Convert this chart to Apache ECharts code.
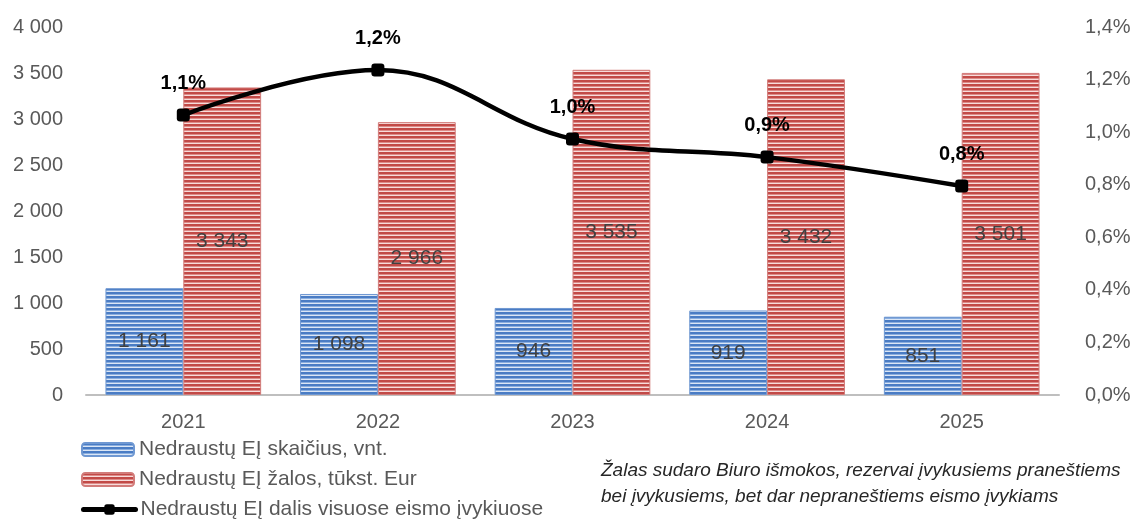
<!DOCTYPE html>
<html>
<head>
<meta charset="utf-8">
<script src="https://cdn.jsdelivr.net/npm/echarts@6/dist/echarts.min.js"></script>
<style>
  html, body { margin: 0; padding: 0; background: #fff; }
  #main { width: 1130px; height: 519px; }
</style>
</head>
<body>
<div id="main"></div>
<script>
var years = ['2021', '2022', '2023', '2024', '2025']
var countValues = [1161, 1098, 946, 919, 851]
var lossValues = [3343, 2966, 3535, 3432, 3501]
var shareValues = [1.065, 1.236, 0.974, 0.905, 0.795]

var seriesNames = [
  'Nedraustų EĮ skaičius, vnt.',
  'Nedraustų EĮ žalos, tūkst. Eur',
  'Nedraustų EĮ dalis visuose eismo įvykiuose'
]
var noteLines = [
  'Žalas sudaro Biuro išmokos, rezervai įvykusiems praneštiems',
  'bei įvykusiems, bet dar nepraneštiems eismo įvykiams'
]

// horizontal stripe fill, like the excel texture
function stripes (dark, mid, light) {
  var c = document.createElement('canvas')
  c.width = 4
  c.height = 4
  var ctx = c.getContext('2d')
  ctx.fillStyle = dark
  ctx.fillRect(0, 0, 4, 2)
  ctx.fillStyle = mid
  ctx.fillRect(0, 2, 4, 1)
  ctx.fillStyle = light
  ctx.fillRect(0, 3, 4, 1)
  return { image: c, repeat: 'repeat' }
}

function thousands (v) {
  return String(v).replace(/\B(?=(\d{3})+(?!\d))/g, ' ')
}

var font = 'Liberation Sans'
var textGray = '#595959'

// one legend per row so they stack like the excel legend
var legendTops = [434, 464, 494]
var legends = seriesNames.map(function (name, i) {
  return {
    left: 76,
    top: legendTops[i],
    itemWidth: 52,
    itemHeight: 13,
    itemGap: 8,
    lineStyle: { width: 5 },
    textStyle: { color: textGray, fontSize: 21, fontFamily: font },
    data: [name]
  }
})

var chart = echarts.init(document.getElementById('main'))
chart.setOption({
  backgroundColor: '#fff',
  animation: false,
  textStyle: { fontFamily: font },
  grid: { left: 86, right: 71, top: 27, bottom: 124, outerBoundsMode: 'none', containLabel: false },
  legend: legends,
  xAxis: {
    type: 'category',
    data: years,
    axisLine: { lineStyle: { color: '#bfbfbf', width: 2 } },
    axisTick: { show: false },
    axisLabel: { color: textGray, fontSize: 20, margin: 17 }
  },
  yAxis: [
    {
      type: 'value',
      min: 0,
      max: 4000,
      interval: 500,
      splitLine: { show: false },
      axisLine: { show: false },
      axisLabel: { color: textGray, fontSize: 20, margin: 23, formatter: thousands }
    },
    {
      type: 'value',
      min: 0,
      max: 1.4,
      interval: 0.2,
      splitLine: { show: false },
      axisLine: { show: false },
      axisLabel: {
        color: textGray,
        fontSize: 20,
        margin: 26,
        formatter: function (v) { return v.toFixed(1).replace('.', ',') + '%' }
      }
    }
  ],
  series: [
    {
      name: seriesNames[0],
      type: 'bar',
      data: countValues,
      barGap: '0%',
      barCategoryGap: '20%',
      itemStyle: {
        color: stripes('#4a7cc4', '#8aaedf', '#dbe6f5'),
        borderColor: '#6f98d2',
        borderWidth: 1
      },
      label: {
        show: true,
        position: 'inside',
        color: '#404040',
        fontSize: 21,
        formatter: function (p) { return thousands(p.value) }
      }
    },
    {
      name: seriesNames[1],
      type: 'bar',
      data: lossValues,
      itemStyle: {
        color: stripes('#c24a47', '#dd8b89', '#f7dcdb'),
        borderColor: '#d27c7a',
        borderWidth: 1
      },
      label: {
        show: true,
        position: 'inside',
        color: '#404040',
        fontSize: 21,
        formatter: function (p) { return thousands(p.value) }
      }
    },
    {
      name: seriesNames[2],
      type: 'line',
      yAxisIndex: 1,
      data: shareValues,
      smooth: 0.4,
      symbol: 'roundRect',
      symbolSize: 13,
      z: 5,
      lineStyle: { color: '#000', width: 4.5, cap: 'round' },
      itemStyle: { color: '#000' },
      label: {
        show: true,
        position: 'top',
        distance: 15,
        color: '#000',
        fontSize: 20,
        fontWeight: 'bold',
        formatter: function (p) { return p.value.toFixed(1).replace('.', ',') + '%' }
      }
    }
  ],
  graphic: [
    {
      type: 'text',
      left: 601,
      top: 458,
      style: {
        text: noteLines.join('\n'),
        fill: '#262626',
        font: 'italic 19px "Liberation Sans"',
        lineHeight: 26
      }
    }
  ]
})
</script>
</body>
</html>
